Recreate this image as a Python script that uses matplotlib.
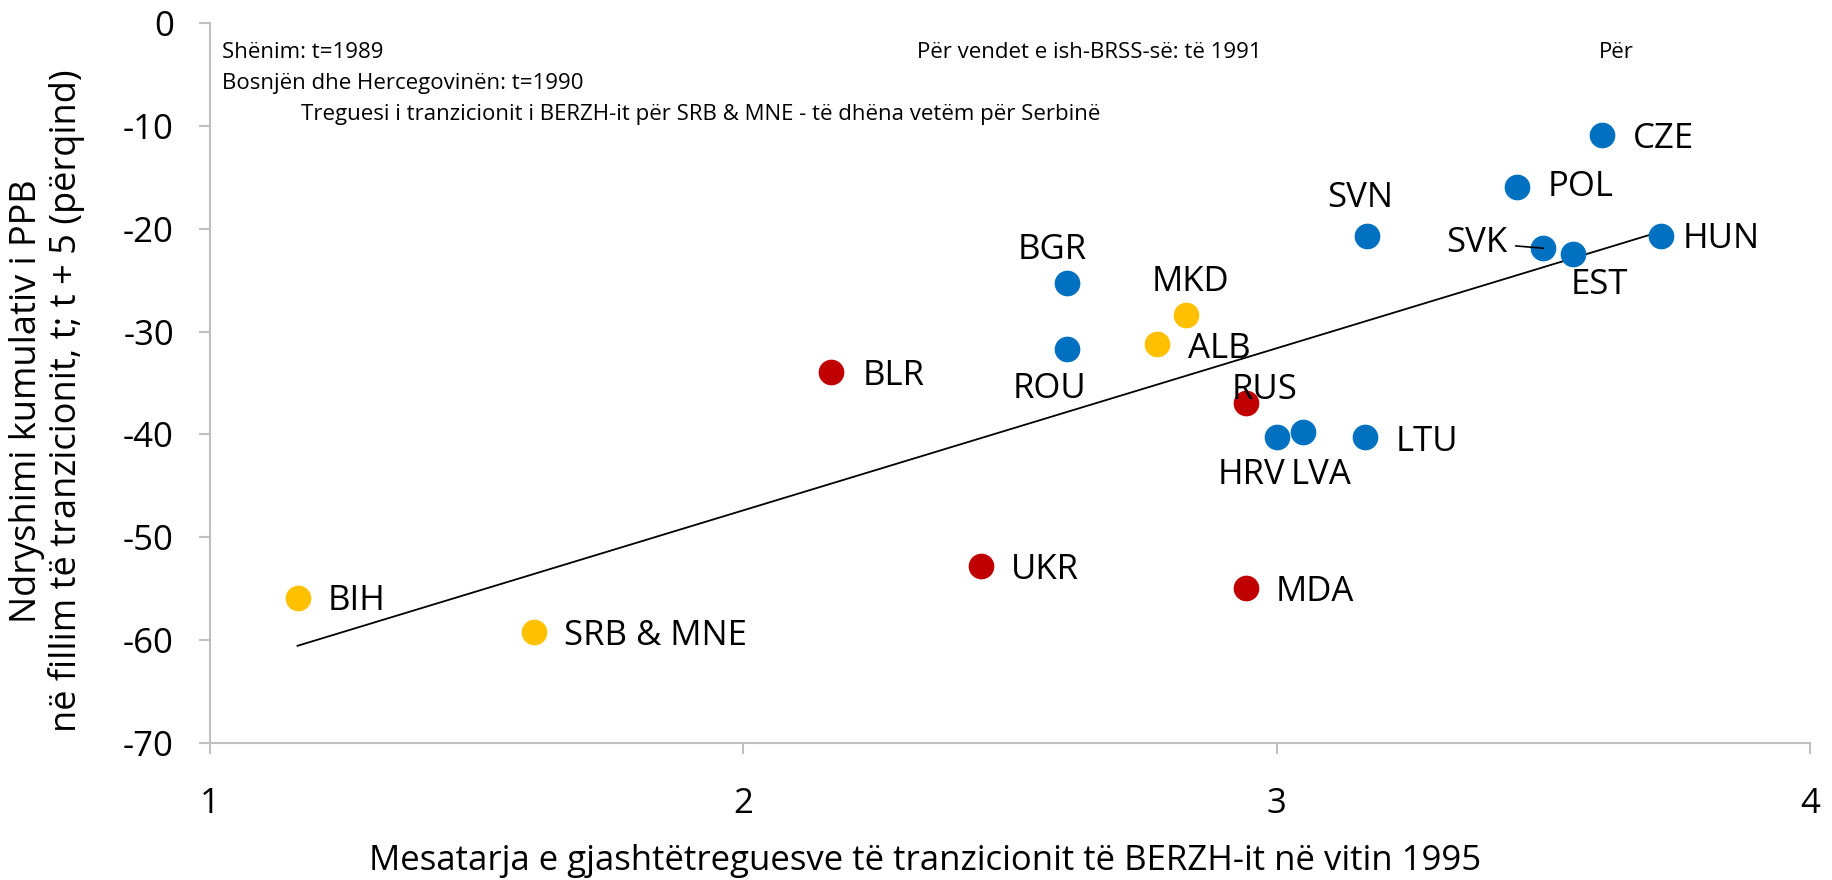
import numpy as np
import matplotlib
matplotlib.use('Agg')
import matplotlib.pyplot as plt

# data
countries = ["CZE", "POL", "SVN", "SVK", "EST", "HUN", "BGR", "MKD", "ROU", "ALB",
             "BLR", "RUS", "HRV", "LVA", "LTU", "UKR", "MDA", "BIH", "SRB & MNE"]
ebrd_index = [3.61, 3.45, 3.17, 3.50, 3.555, 3.72, 2.607, 2.83, 2.607, 2.776,
              2.164, 2.943, 3.00, 3.05, 3.165, 2.445, 2.943, 1.164, 1.607]
gdp_change = [-10.9, -15.9, -20.7, -21.9, -22.5, -20.7, -25.3, -28.4, -31.7, -31.25,
              -33.9, -36.9, -40.3, -39.8, -40.3, -52.8, -54.9, -55.9, -59.2]
groups = ["b", "b", "b", "b", "b", "b", "b", "y", "b", "y",
          "r", "r", "b", "b", "b", "r", "r", "y", "y"]

colors = {"b": "#0070C0", "y": "#FFC000", "r": "#C00000"}

# label offsets (points) and alignment
label_pos = {
    "CZE": (22, -3, "left"), "POL": (22, 0, "left"), "SVN": (-5, 27, "center"),
    "SVK": (-26, 4, "right"), "EST": (19, -22, "center"), "HUN": (16, -2, "left"),
    "BGR": (-11, 24, "center"), "MKD": (3, 24, "center"), "ROU": (-13, -29, "center"),
    "ALB": (22, -3, "left"), "BLR": (23, -3, "left"), "RUS": (13, 9, "center"),
    "HRV": (-18, -27, "center"), "LVA": (13, -31, "center"), "LTU": (22, -3, "left"),
    "UKR": (22, -3, "left"), "MDA": (21, -3, "left"), "BIH": (22, -2, "left"),
    "SRB & MNE": (22, -3, "left"),
}

plt.rcParams['font.family'] = ['Open Sans', 'DejaVu Sans']
plt.rcParams['axes.unicode_minus'] = False

fig = plt.figure(figsize=(18.33, 8.8), dpi=100)
ax = fig.add_axes([0.1146, 0.1557, 0.8729, 0.8182])

x = np.array(ebrd_index)
y = np.array(gdp_change)

# trend line (linear fit)
k, b = np.polyfit(x, y, 1)
xl = np.array([x.min(), x.max()])
ax.plot(xl, k * xl + b, color='black', lw=1.3, zorder=2)

for xi, yi, g in zip(x, y, groups):
    ax.plot(xi, yi, 'o', ms=18.5, color=colors[g], mec='none', zorder=3)

for name, xi, yi in zip(countries, x, y):
    dx, dy, ha = label_pos[name]
    if name == "SVK":
        ax.annotate(name, (xi, yi), xytext=(dx, dy), textcoords='offset points',
                    ha=ha, va='center', fontsize=25,
                    arrowprops=dict(arrowstyle='-', color='black', lw=1.2,
                                    shrinkA=4, shrinkB=0))
    else:
        ax.annotate(name, (xi, yi), xytext=(dx, dy), textcoords='offset points',
                    ha=ha, va='center', fontsize=25)

notes = [
    (0.0073, 0.959, "Shënim: t=1989"),
    (0.0073, 0.916, "Bosnjën dhe Hercegovinën: t=1990"),
    (0.057, 0.873, "Treguesi i tranzicionit i BERZH-it për SRB & MNE - të dhëna vetëm për Serbinë"),
    (0.442, 0.959, "Për vendet e ish-BRSS-së: të 1991"),
    (0.868, 0.959, "Për"),
]
for nx, ny, t in notes:
    ax.text(nx, ny, t, transform=ax.transAxes, fontsize=16, va='center', ha='left')

ax.set_xlim(1, 4)
ax.set_ylim(-70, 0)
ax.set_xticks([1, 2, 3, 4])
ax.set_yticks(np.arange(-70, 1, 10))

for s in ['top', 'right']:
    ax.spines[s].set_visible(False)
for s in ['left', 'bottom']:
    ax.spines[s].set_color('#BFBFBF')
    ax.spines[s].set_linewidth(1.5)
ax.tick_params(axis='both', colors='#BFBFBF', labelcolor='black', labelsize=25,
               length=8, width=1.5)
ax.tick_params(axis='x', pad=24)
ax.tick_params(axis='y', pad=18)

ax.set_xlabel("Mesatarja e gjashtëtreguesve të tranzicionit të BERZH-it në vitin 1995",
              fontsize=25)
ax.xaxis.set_label_coords(0.447, -0.14)
ax.set_ylabel("Ndryshimi kumulativ i PPB\nnë fillim të tranzicionit, t; t + 5 (përqind)",
              fontsize=26, linespacing=1.1)
ax.yaxis.set_label_coords(-0.078, 0.475)

fig.savefig('out.png', dpi=100)
